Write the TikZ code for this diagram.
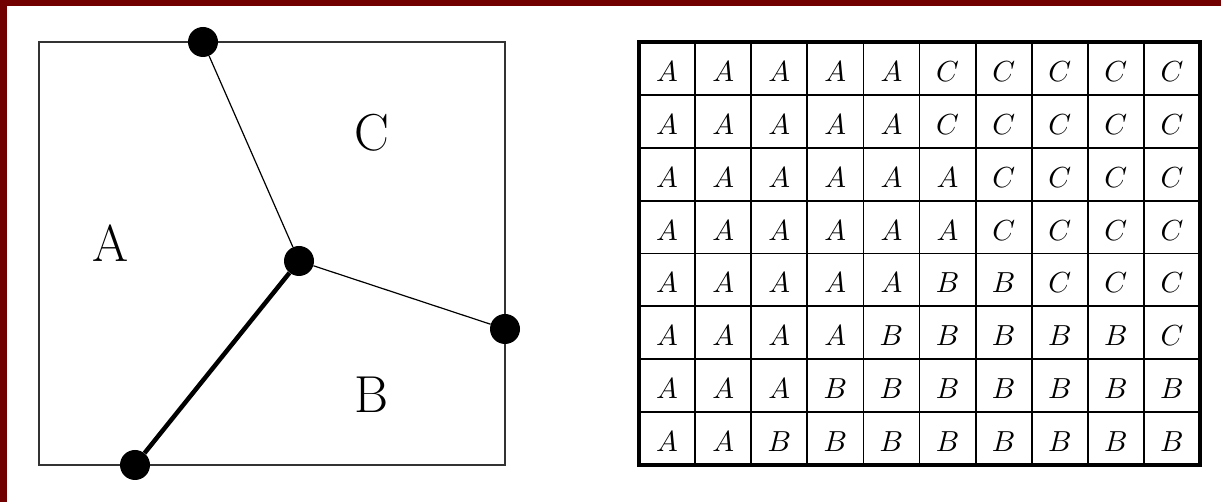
\documentclass[tikz,border=0pt]{standalone}
\definecolor{maroon}{RGB}{115,0,0}
\tikzset{
	site/.style={circle,fill=black,inner sep=0pt,minimum size=30pt},
	region/.style={font=\fontsize{52}{52}\selectfont},
	cell/.style={font=\fontsize{10}{10}\selectfont,scale=2.9},
}
\begin{document}
\begin{tikzpicture}[x=1pt,y=1pt]
	\useasboundingbox (0,0) rectangle (1221,502);
	\fill[maroon] (0,496) rectangle (1221,502);
	\fill[maroon] (0,0) rectangle (7,502);
	% the partitioned square
	\draw[black!80,line width=1.6pt] (39,37) rectangle (505,460);
	\node[site](top) at (203,460) {};
	\node[site](mid) at (299,241) {};
	\node[site](right) at (505,173) {};
	\node[site](bottom) at (135,37) {};
	\draw[line width=1.2pt] (top) -- (mid) -- (right);
	\draw[line width=4.5pt] (mid) -- (bottom);
	\node[region](ra) at (111,259) {A};
	\node[region](rc) at (372,369) {C};
	\node[region](rb) at (372,107) {B};
	% the labelled grid
	\foreach \i in {1,...,9}
		\draw[line width=1.8pt] (639+\i*56.1,37) -- (639+\i*56.1,460);
	\foreach \i in {1,...,7}
		\draw[line width=1.8pt] (639,460-\i*52.875) -- (1200,460-\i*52.875);
	\draw[line width=3.5pt] (639,37) rectangle (1200,460);
	\foreach \cells [count=\r] in {
		{A,A,A,A,A,C,C,C,C,C},
		{A,A,A,A,A,C,C,C,C,C},
		{A,A,A,A,A,A,C,C,C,C},
		{A,A,A,A,A,A,C,C,C,C},
		{A,A,A,A,A,B,B,C,C,C},
		{A,A,A,A,B,B,B,B,B,C},
		{A,A,A,B,B,B,B,B,B,B},
		{A,A,B,B,B,B,B,B,B,B}}
		\foreach \l [count=\c] in \cells
			\node[cell](g-\r-\c) at (639+\c*56.1-28.05,460-\r*52.875+23.4) {$\l$};
\end{tikzpicture}
\end{document}
